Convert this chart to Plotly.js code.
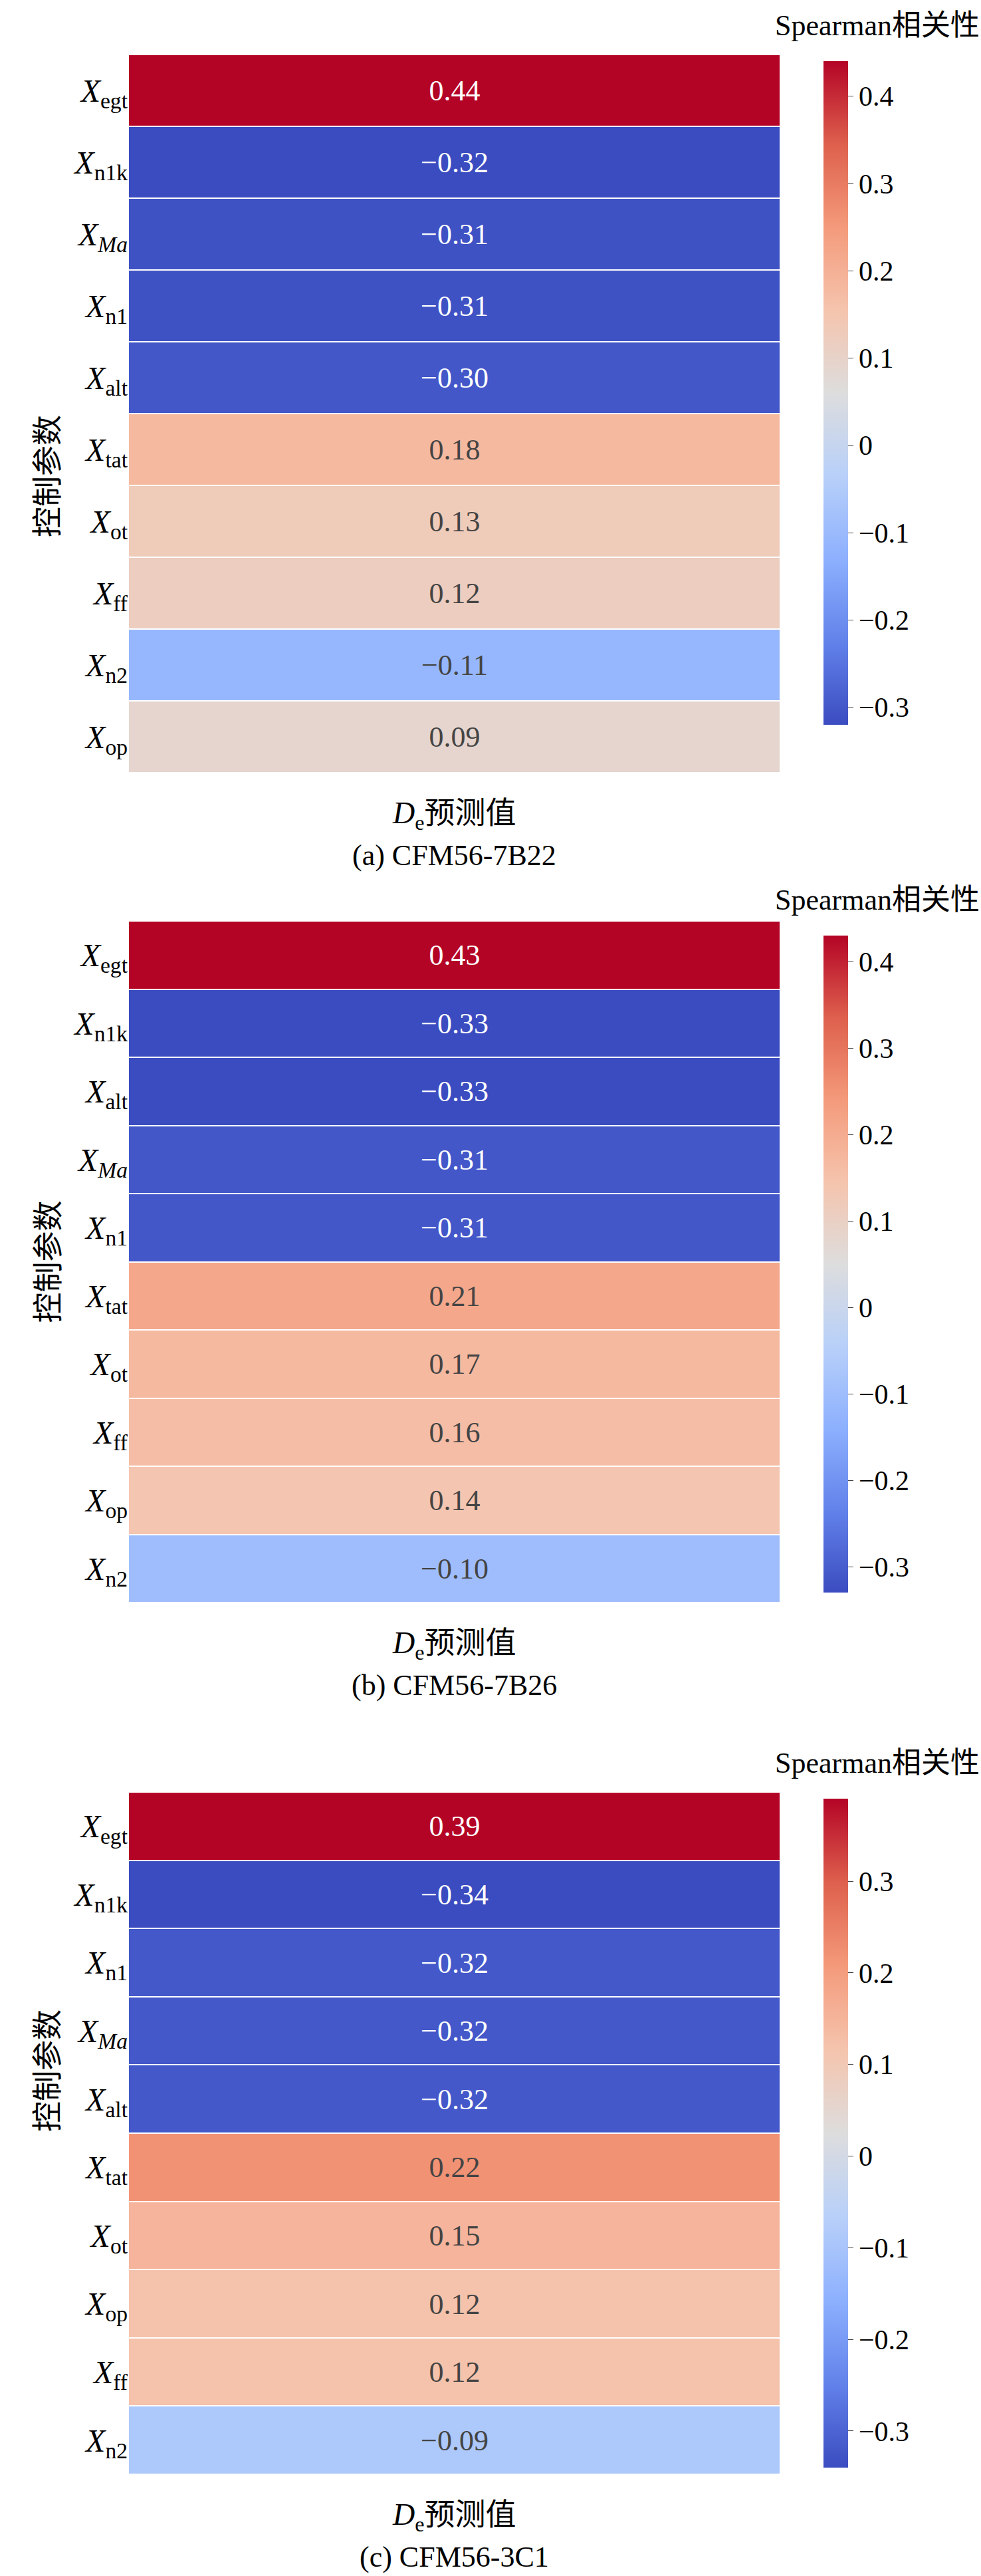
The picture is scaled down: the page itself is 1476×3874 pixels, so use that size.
<!DOCTYPE html>
<html><head><meta charset="utf-8">
<script src="https://cdn.plot.ly/plotly-3.0.1.min.js"></script>
<style>body{margin:0;background:#fff}</style>
</head><body>
<div id="chart" style="width:1476px;height:3874px"></div>
<script>
// panel (a) CFM56-7B22
const paramsA = ['egt', 'n1k', 'Ma', 'n1', 'alt', 'tat', 'ot', 'ff', 'n2', 'op'];
const valuesA = [0.44, -0.32, -0.31, -0.31, -0.30, 0.18, 0.13, 0.12, -0.11, 0.09];
// panel (b) CFM56-7B26
const paramsB = ['egt', 'n1k', 'alt', 'Ma', 'n1', 'tat', 'ot', 'ff', 'op', 'n2'];
const valuesB = [0.43, -0.33, -0.33, -0.31, -0.31, 0.21, 0.17, 0.16, 0.14, -0.10];
// panel (c) CFM56-3C1
const paramsC = ['egt', 'n1k', 'n1', 'Ma', 'alt', 'tat', 'ot', 'op', 'ff', 'n2'];
const valuesC = [0.39, -0.34, -0.32, -0.32, -0.32, 0.22, 0.15, 0.12, 0.12, -0.09];
const captions = ['(a) CFM56-7B22', '(b) CFM56-7B26', '(c) CFM56-3C1'];
const cbTicks = [[0.4, 0.3, 0.2, 0.1, 0, -0.1, -0.2, -0.3], [0.4, 0.3, 0.2, 0.1, 0, -0.1, -0.2, -0.3], [0.3, 0.2, 0.1, 0, -0.1, -0.2, -0.3]];

const H = 3874, W = 1476;
const serif = 'Liberation Serif, Times New Roman, serif';
const cjk = 'Noto Sans CJK SC';
const coolwarm = [[0, '#3b4cc0'], [0.125, '#6282ea'], [0.25, '#8db0fe'], [0.375, '#b8d0f9'],
  [0.5, '#dddddd'], [0.625, '#f5c4ad'], [0.75, '#f49a7b'], [0.875, '#de604d'], [1, '#b40426']];

const fmt = v => (v < 0 ? '\u2212' : '') + Math.abs(v).toFixed(2);
const lab = p => p === 'Ma' ? '<i>X</i><sub><i>Ma</i></sub>' : '<i>X</i><sub>' + p + '</sub>';

// pixel boxes: [heatmap top, heatmap bottom, colorbar top, colorbar bottom]
const boxes = [[82, 1162, 82, 1100], [1385, 2410, 1397, 2405], [2695, 3721, 2695, 3721]];
const sets = [[paramsA, valuesA], [paramsB, valuesB], [paramsC, valuesC]];
const left = 193, right = 1174, mid = (left + right) / 2;

const traces = [], annotations = [];
const layout = {width: W, height: H, margin: {l: 0, r: 0, t: 0, b: 0},
  paper_bgcolor: '#fff', plot_bgcolor: '#fff', font: {family: serif, size: 44, color: '#000'}};

sets.forEach(([params, vals], i) => {
  const b = boxes[i];
  const n = i === 0 ? '' : String(i + 1);
  traces.push({
    type: 'heatmap', x: ['De'], y: params.map(lab),
    z: vals.map(v => [v]), text: vals.map(v => [fmt(v)]), texttemplate: '%{text}',
    textfont: {size: 44, family: serif},
    zmin: Math.min(...vals), zmax: Math.max(...vals), colorscale: coolwarm,
    xgap: 2, ygap: 2, hoverinfo: 'skip',
    xaxis: 'x' + n, yaxis: 'y' + n,
    colorbar: {x: 1229 / W, xanchor: 'left', y: 1 - b[2] / H, yanchor: 'top',
      len: b[3] - b[2], lenmode: 'pixels', thickness: 37, outlinewidth: 0,
      tickvals: cbTicks[i], ticktext: cbTicks[i].map(t => t < 0 ? '\u2212' + Math.abs(t) : String(t)),
      ticks: 'outside', ticklen: 8, tickfont: {size: 42, family: serif}}
  });
  layout['xaxis' + n] = {domain: [left / W, right / W], anchor: 'y' + n, showticklabels: false,
    showgrid: false, zeroline: false, ticks: ''};
  layout['yaxis' + n] = {domain: [1 - b[1] / H, 1 - b[0] / H], anchor: 'x' + n, autorange: 'reversed',
    showgrid: false, zeroline: false, ticks: '', ticklen: 6, tickfont: {size: 48, family: serif}};
  annotations.push(
    {text: 'Spearman<span style="font-family:' + cjk + '">相关性</span>', xref: 'paper', yref: 'paper',
      x: 1, xanchor: 'right', y: 1 - (b[2] - 48) / H, yanchor: 'middle', showarrow: false, font: {size: 44}},
    {text: '<i>D</i><sub>e</sub><span style="font-family:' + cjk + '">预测值</span>', xref: 'paper', yref: 'paper',
      x: mid / W, y: 1 - (b[1] + 58) / H, yanchor: 'middle', showarrow: false, font: {size: 46}},
    {text: captions[i], xref: 'paper', yref: 'paper', x: mid / W, y: 1 - (b[1] + 124) / H,
      yanchor: 'middle', showarrow: false, font: {size: 44}},
    {text: '控制参数', xref: 'paper', yref: 'paper', x: 32 / W, y: 1 - ((b[0] + b[1]) / 2) / H,
      textangle: -90, showarrow: false, font: {size: 46, family: cjk}}
  );
});
layout.annotations = annotations;
Plotly.newPlot('chart', traces, layout, {displayModeBar: false});
</script>
</body></html>
